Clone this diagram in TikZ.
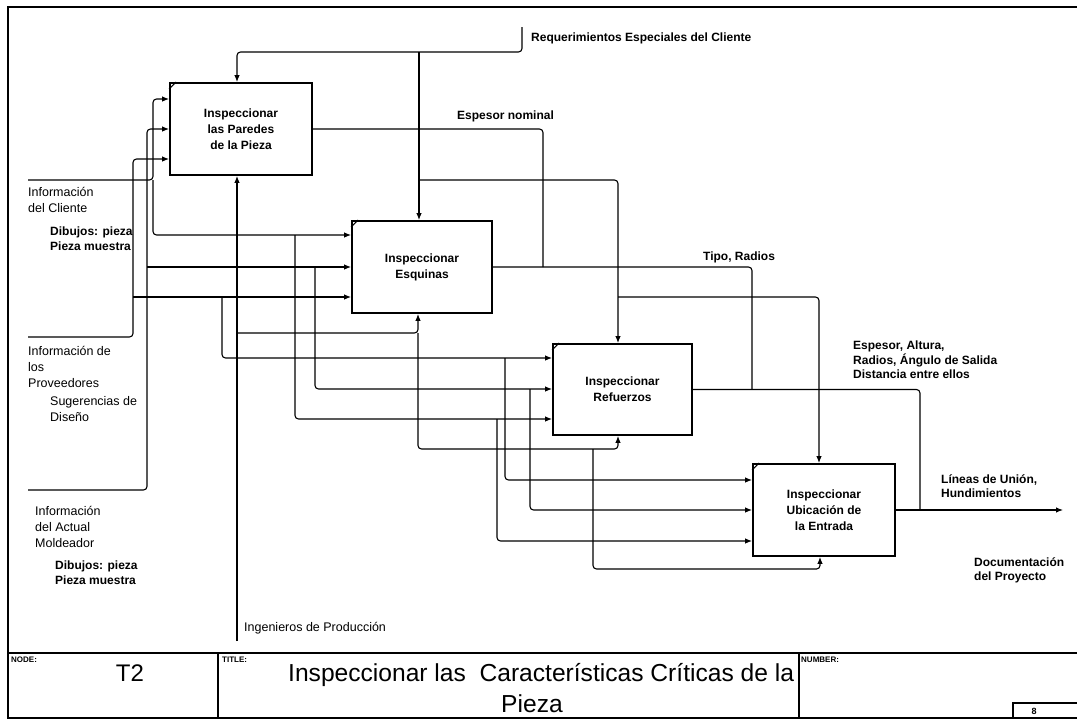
\documentclass[tikz,border=0pt]{standalone}
\usepackage{fontspec}
\setmainfont{Liberation Sans}
\usetikzlibrary{arrows.meta,calc}
\begin{document}
\begin{tikzpicture}[x=1pt,y=-1pt,
  frame/.style={line width=1.2pt},
  pbox/.style={draw, line width=1.8pt, inner sep=0pt, align=center,
    font=\fontsize{12}{16}\selectfont\bfseries},
  flow/.style={line width=1.1pt, rounded corners=3.5pt},
  arr/.style={flow, -{Latex[length=7pt,width=5.5pt]}},
  lab/.style={inner sep=0pt, align=left, font=\fontsize{12.5}{16}\selectfont},
  blab/.style={inner sep=0pt, align=left, font=\fontsize{12}{14.5}\selectfont\bfseries},
  small/.style={inner sep=0pt, anchor=north west, font=\fontsize{8}{9}\selectfont\bfseries},
]
\useasboundingbox (0,0) rectangle (1077,720);

% sheet frame and title block
\draw[frame] (1077,7) -- (8,7) -- (8,718) -- (1077,718);
\draw[frame] (8,653) -- (1077,653);
\draw[frame] (218,653) -- (218,718);
\draw[frame] (799,653) -- (799,718);
\draw[frame] (1013,718) |- (1077,703);

% activity boxes
\node[pbox, minimum width=142pt, minimum height=92pt] (b1) at (241,129) {Inspeccionar\\las Paredes\\de la Pieza};
\node[pbox, minimum width=140pt, minimum height=92pt] (b2) at (422,267) {Inspeccionar\\Esquinas};
\node[pbox, minimum width=139pt, minimum height=91pt] (b3) at (622.5,389.5) {Inspeccionar\\Refuerzos};
\node[pbox, minimum width=142pt, minimum height=92pt] (b4) at (824,510) {Inspeccionar\\Ubicación de\\la Entrada};
\foreach \b in {b1,b2,b3,b4}
  \draw[line width=1.1pt] ([yshift=-7pt]\b.north west) -- ([xshift=7pt]\b.north west);

% boundary ends
\coordinate (cli) at (28,180);
\coordinate (prov) at (28,337);
\coordinate (mold) at (28,490);
\coordinate (req) at (522,27);
\coordinate (ing) at (237,641);
\coordinate (doc) at (1063,510);

% inputs: Informacion del Cliente
\draw[arr] (cli) -- (153,180) |- (b1.west |- 0,99);
\draw[arr] (153,180) |- (b2.west |- 0,235);
\draw[arr] (295,235) |- (b3.west |- 0,419);
\draw[arr] (497,419) |- (b4.west |- 0,541);

% inputs: Informacion del Actual Moldeador
\draw[arr] (mold) -- (147,490) |- (b1.west |- 0,129);
\draw[arr] (147,267) -- (b2.west |- 0,267);
\draw[arr] (315,267) |- (b3.west |- 0,389);
\draw[arr] (530,389) |- (b4.west |- 0,510);

% inputs: Informacion de los Proveedores
\draw[arr] (prov) -- (133,337) |- (b1.west |- 0,159);
\draw[arr] (133,297) -- (b2.west |- 0,297);
\draw[arr] (222,297) |- (b3.west |- 0,358);
\draw[arr] (505,358) |- (b4.west |- 0,480);

% outputs
\draw[flow] (b1.east) -| (543,267);
\draw[flow] (b2.east) -| (752,389);
\draw[flow] (b3.east) -| (920,510);
\draw[arr] (b4.east) -- (doc);

% controls
\draw[arr] (req) |- (237,52) -- (237,0 |- b1.north);
\draw[arr] (419,52) -- (419,0 |- b2.north);
\draw[arr] (419,180) -| (618,0 |- b3.north);
\draw[arr] (618,297) -| (819,0 |- b4.north);

% mechanisms
\draw[arr] (ing) -- (237,0 |- b1.south);
\draw[arr] (237,333) -| (418,0 |- b2.south);
\draw[arr] (418,333) |- (618,449) -- (618,0 |- b3.south);
\draw[arr] (593,449) |- (820,569) -- (820,0 |- b4.south);

% arrow labels
\node[blab, anchor=west] (lreq) at (531,38) {Requerimientos Especiales del Cliente};
\node[blab, anchor=west] (lesp) at (457,116) {Espesor nominal};
\node[blab, anchor=west] (ltipo) at (703,257) {Tipo, Radios};
\node[blab, anchor=north west] (lesp2) at (853,341) {Espesor, Altura,\\Radios, Ángulo de Salida\\Distancia entre ellos};
\node[blab, anchor=north west] (llin) at (941,474) {Líneas de Unión,\\Hundimientos};
\node[blab, anchor=north west] (ldoc) at (974,557) {Documentación\\del Proyecto};
\node[lab, anchor=west] (ling) at (244,628) {Ingenieros de Producción};
\node[lab, anchor=north west] (lcli) at (28,187) {Información\\del Cliente};
\node[blab, anchor=north west] (lcli2) at (50,227) {Dibujos: pieza\\Pieza muestra};
\node[lab, anchor=north west] (lprov) at (28,346) {Información de\\los\\Proveedores};
\node[lab, anchor=north west] (lsug) at (50,396) {Sugerencias de\\Diseño};
\node[lab, anchor=north west] (lmol) at (35,506) {Información\\del Actual\\Moldeador};
\node[blab, anchor=north west] (lmol2) at (55,561) {Dibujos: pieza\\Pieza muestra};

% title block texts
\node[small] (nodelbl) at (11,657) {NODE:};
\node[inner sep=0pt, anchor=base, font=\fontsize{24}{26}\selectfont] (nodeid) at (130,681) {T2};
\node[small] (titlelbl) at (222,657) {TITLE:};
\node[inner sep=0pt, anchor=base west, font=\fontsize{24.6}{28}\selectfont] (title1) at (288,681) {Inspeccionar las~~Características Críticas de la};
\node[inner sep=0pt, anchor=base, font=\fontsize{24.6}{28}\selectfont] (title2) at (532,712) {Pieza};
\node[small] (numlbl) at (801,657) {NUMBER:};
\node[inner sep=0pt, anchor=base, font=\fontsize{9}{10}\selectfont\bfseries] (pagenum) at (1034,714.5) {8};
\end{tikzpicture}
\end{document}
